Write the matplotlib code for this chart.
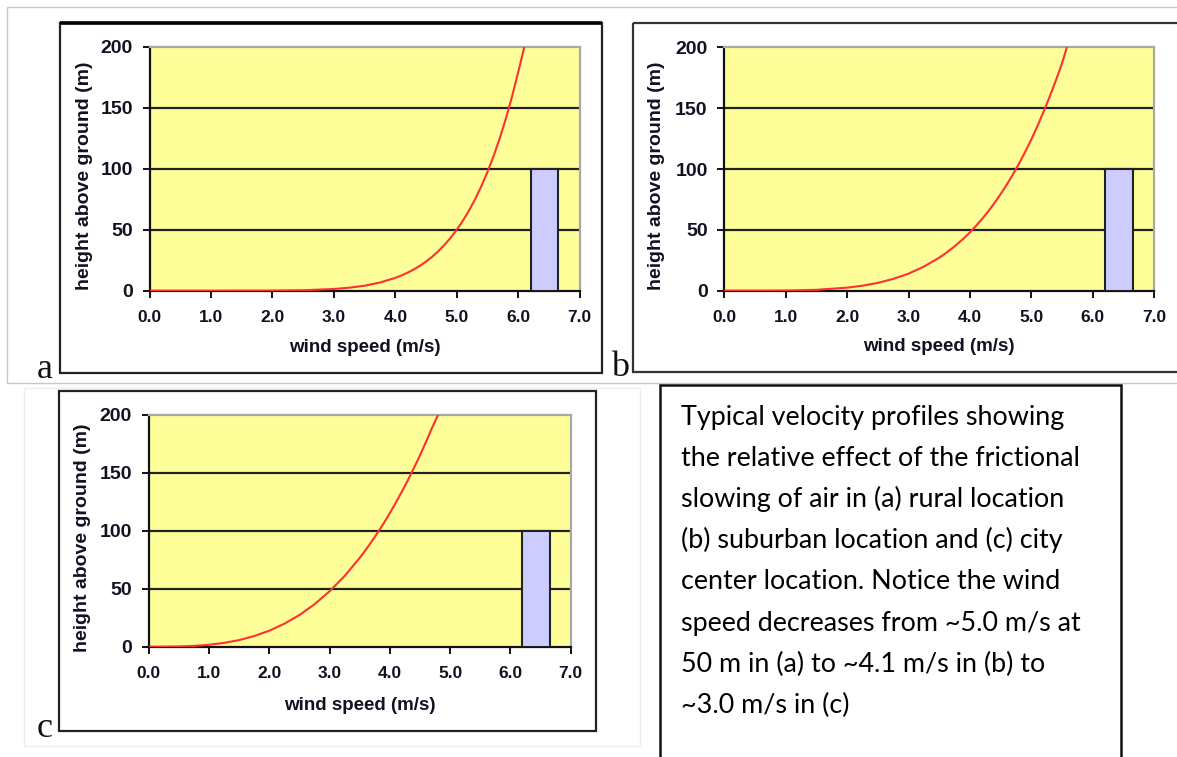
import matplotlib
matplotlib.use("Agg")
import matplotlib.pyplot as plt
from matplotlib.patches import Rectangle

# ---------------- data ----------------
speed_ticks = [0.0, 1.0, 2.0, 3.0, 4.0, 5.0, 6.0, 7.0]
speed_tick_labels = ["0.0", "1.0", "2.0", "3.0", "4.0", "5.0", "6.0", "7.0"]
height_ticks = [0, 50, 100, 150, 200]

# (a) rural
speed_a = [0.0, 1.0, 2.0, 2.5, 3.0, 3.25, 3.5, 3.75, 4.0, 4.1, 4.2, 4.3, 4.4, 4.5, 4.6,
           4.7, 4.8, 4.9, 5.0, 5.1, 5.2, 5.3, 5.4, 5.5, 5.6, 5.7, 5.8, 5.9, 6.0, 6.1]
height_a = [0.0, 0.0, 0.08, 0.39, 1.4, 2.45, 4.1, 6.7, 10.5, 12.5, 14.8, 17.4, 20.4, 23.9, 27.9,
            32.4, 37.6, 43.4, 50.0, 57.4, 65.8, 75.2, 85.7, 97.4, 110.5, 125.1, 141.3, 159.3, 179.2, 200.0]

# (b) suburban
speed_b = [0.0, 1.0, 1.5, 2.0, 2.25, 2.5, 2.75, 3.0, 3.25, 3.5, 3.6, 3.75, 3.9, 4.0, 4.1, 4.2,
           4.3, 4.4, 4.5, 4.6, 4.7, 4.8, 4.9, 5.0, 5.1, 5.2, 5.3, 5.4, 5.5, 5.58]
height_b = [0.0, 0.13, 0.73, 2.5, 4.1, 6.4, 9.7, 14.0, 19.8, 27.1, 30.6, 36.4, 43.0, 47.9, 53.3, 59.0,
            65.3, 72.0, 79.3, 87.1, 95.4, 104.4, 114.0, 124.2, 135.2, 147.0, 159.4, 172.6, 186.6, 200.0]

# (c) city centre
speed_c = [0.0, 0.25, 0.5, 0.75, 1.0, 1.25, 1.5, 1.75, 2.0, 2.25, 2.5, 2.75, 3.0, 3.25, 3.5,
           3.6, 3.75, 3.9, 4.0, 4.1, 4.2, 4.3, 4.4, 4.5, 4.6, 4.7, 4.8]
height_c = [0.0, 0.02, 0.2, 0.69, 1.66, 3.3, 5.7, 9.2, 13.8, 19.8, 27.3, 36.6, 47.8, 61.0, 76.6,
            83.5, 94.6, 106.6, 115.2, 124.3, 133.8, 143.7, 154.2, 165.0, 176.7, 188.7, 200.0]

building_left = 6.2
building_width = 0.45
building_height = 100

panel_letters = ["a", "b", "c"]
x_label = "wind speed (m/s)"
y_label = "height above ground (m)"
caption_lines = [
    "Typical velocity profiles showing",
    "the relative effect of the frictional",
    "slowing of air in (a) rural location",
    "(b) suburban location and (c) city",
    "center location. Notice the wind",
    "speed decreases from ~5.0 m/s at",
    "50 m in (a) to ~4.1 m/s in (b) to",
    "~3.0 m/s in (c)",
]

# ---------------- layout ----------------
W, H = 1177, 757
fig = plt.figure(figsize=(W / 100, H / 100), dpi=100)
fig.patch.set_facecolor("white")

bg = fig.add_axes([0, 0, 1, 1], zorder=0)
bg.set_xlim(0, W)
bg.set_ylim(H, 0)
bg.axis("off")


def rect(x0, y0, x1, y1, color, lw):
    bg.add_patch(Rectangle((x0, y0), x1 - x0, y1 - y0, fill=False,
                           edgecolor=color, linewidth=lw, clip_on=False))


# light outer frames
rect(7, 7, 1185, 383, "#C8C8C8", 1.0)
rect(24, 388, 640, 746, "#EFEFEF", 1.0)

# panel frames
rect(60, 22.7, 602, 372.7, "#222222", 1.6)
bg.plot([60, 602], [22.7, 22.7], color="black", lw=2.6, solid_capstyle="butt")
rect(633, 22.7, 1190, 371.5, "#333333", 1.6)
rect(59.3, 390.7, 596.3, 730.7, "#222222", 1.6)

# caption box (open at the bottom)
bg.plot([659.5, 659.5, 1121, 1121], [H + 5, 385, 385, H + 5],
        color="#111111", lw=1.8, solid_joinstyle="miter")

letter_pos = [(37, 378), (611, 376.5), (37, 737)]
for letter, (lx, ly) in zip(panel_letters, letter_pos):
    bg.text(lx, ly, letter, family="Liberation Serif", fontsize=26,
            ha="left", va="baseline", color="#111111")

for i, line in enumerate(caption_lines):
    bg.text(681, 425 + i * 41.1, line, family="Lato", fontsize=19.4,
            ha="left", va="baseline", color="black")

panels = [
    ((149.5, 46.7, 579.7, 290.7), speed_a, height_a, -0.152, -0.231),
    ((724.4, 47.3, 1154.0, 290.7), speed_b, height_b, -0.157, -0.231),
    ((148.7, 415.0, 570.6, 646.7), speed_c, height_c, -0.156, -0.252),
]

for (x0, y0, x1, y1), spd, hgt, ylab_x, xlab_y in panels:
    ax = fig.add_axes([x0 / W, 1 - y1 / H, (x1 - x0) / W, (y1 - y0) / H], zorder=2)
    ax.set_facecolor("#FFFF99")
    ax.set_xlim(0, 7)
    ax.set_ylim(0, 200)
    ax.set_xticks(speed_ticks)
    ax.set_xticklabels(speed_tick_labels)
    ax.set_yticks(height_ticks)
    ax.yaxis.grid(True, color="#222222", lw=1.6)
    gls = ax.get_ygridlines()
    gls[0].set_visible(False)
    gls[-1].set_visible(False)
    ax.set_axisbelow(True)

    for side in ["left", "bottom"]:
        ax.spines[side].set_color("#111111")
        ax.spines[side].set_linewidth(1.6)
    for side in ["top", "right"]:
        ax.spines[side].set_color("#A8A8A8")
        ax.spines[side].set_linewidth(1.6)

    ax.tick_params(axis="both", direction="out", length=5, width=1.4, color="#111111")
    ax.tick_params(axis="x", pad=9, labelsize=12.5)
    ax.tick_params(axis="y", pad=7, labelsize=14)
    for lab in ax.get_xticklabels() + ax.get_yticklabels():
        lab.set_family("Liberation Sans")
        lab.set_fontweight("bold")
        lab.set_color("#111122")

    ax.bar(building_left, building_height, width=building_width, align="edge",
           color="#CCCCFF", edgecolor="#222222", linewidth=1.5, zorder=3)
    ax.plot(spd, hgt, color="#FF3030", lw=1.5, zorder=4, clip_on=True,
            solid_joinstyle="round")

    ax.set_xlabel(x_label, family="Liberation Sans", fontweight="bold",
                  fontsize=13.5, va="center", color="#111122")
    ax.xaxis.set_label_coords(0.5, xlab_y)
    ax.set_ylabel(y_label, family="Liberation Sans", fontweight="bold",
                  fontsize=14, va="center", ha="center", color="#111122")
    ax.yaxis.set_label_coords(ylab_x, 0.472)

fig.savefig("out.png", dpi=100, facecolor="white")
